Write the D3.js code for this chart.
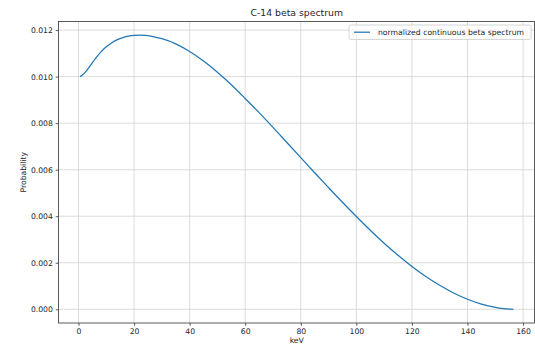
<!DOCTYPE html>
<html>
<head>
<meta charset="utf-8">
<script src="https://cdn.jsdelivr.net/npm/d3@7"></script>
<style>
  html, body { margin: 0; padding: 0; background: #fff; }
  svg { display: block; font-family: "DejaVu Sans", sans-serif; }
</style>
</head>
<body>
<svg id="chart" width="535" height="347"></svg>
<script>
// C-14 beta spectrum: kinetic energy (keV) and normalized probability
const energyKeV = [0.6, 2, 4, 6, 8, 10, 12, 14, 16, 18, 20, 22, 24, 26, 28, 30,
  35, 40, 45, 50, 55, 60, 65, 70, 75, 80, 85, 90, 95, 100, 105, 110, 115, 120,
  125, 130, 135, 140, 145, 150, 153, 156.5];
const probability = [0.01000, 0.01013, 0.01043, 0.01076, 0.01105, 0.01128, 0.01146,
  0.01159, 0.01168, 0.01174, 0.01177, 0.01178, 0.01177, 0.01174, 0.01169, 0.01163,
  0.01141, 0.01108, 0.01067, 0.01019, 0.00965, 0.00906, 0.00845, 0.00782, 0.00717,
  0.00652, 0.00587, 0.00523, 0.00460, 0.00399, 0.00340, 0.00284, 0.00232, 0.00184,
  0.00141, 0.00103, 0.00070, 0.00043, 0.00022, 0.00008, 0.00003, 0.00000];
const xTicks = [0, 20, 40, 60, 80, 100, 120, 140, 160];
const yTicks = [0.000, 0.002, 0.004, 0.006, 0.008, 0.010, 0.012];
const titleText = "C-14 beta spectrum";
const xLabel = "keV";
const yLabel = "Probability";
const seriesName = "normalized continuous beta spectrum";

const svg = d3.select("#chart");
const plot = { left: 58.5, right: 535, top: 21.5, bottom: 323 };

// 5% padding around the data range on both axes
const xExt = d3.extent(energyKeV), yExt = d3.extent(probability);
const xPad = (xExt[1] - xExt[0]) * 0.05, yPad = (yExt[1] - yExt[0]) * 0.05;
const x = d3.scaleLinear().domain([xExt[0] - xPad, xExt[1] + xPad]).range([plot.left, plot.right]);
const y = d3.scaleLinear().domain([yExt[0] - yPad, yExt[1] + yPad]).range([plot.bottom, plot.top]);

const textColor = "#262626";
const fs = 7.7;

// grid
const grid = svg.append("g").attr("stroke", "#d2d2d2").attr("stroke-width", 0.8);
grid.selectAll("line.gx").data(xTicks).join("line")
  .attr("x1", d => x(d)).attr("x2", d => x(d))
  .attr("y1", plot.top).attr("y2", plot.bottom);
grid.selectAll("line.gy").data(yTicks).join("line")
  .attr("y1", d => y(d)).attr("y2", d => y(d))
  .attr("x1", plot.left).attr("x2", plot.right);

// axes
const xAxis = d3.axisBottom(x).tickValues(xTicks).tickFormat(d3.format("d"))
  .tickSizeInner(2.8).tickSizeOuter(0).tickPadding(2.8);
const yAxis = d3.axisLeft(y).tickValues(yTicks).tickFormat(d3.format(".3f"))
  .tickSizeInner(2.8).tickSizeOuter(0).tickPadding(2.8);

const gx = svg.append("g").attr("transform", `translate(0,${plot.bottom})`).call(xAxis);
const gy = svg.append("g").attr("transform", `translate(${plot.left},0)`).call(yAxis);
[gx, gy].forEach(g => {
  g.select(".domain").remove();
  g.selectAll(".tick line").attr("stroke", "#333").attr("stroke-width", 0.8);
  g.selectAll(".tick text").attr("fill", textColor)
    .style("font-size", fs + "px").style("font-family", "DejaVu Sans, sans-serif");
});

// spectrum line
const line = d3.line().x((d, i) => x(energyKeV[i])).y(d => y(d)).curve(d3.curveMonotoneX);
svg.append("path").datum(probability)
  .attr("d", line).attr("fill", "none")
  .attr("stroke", "#1f77b4").attr("stroke-width", 1.25);

// frame
svg.append("rect")
  .attr("x", plot.left).attr("y", plot.top)
  .attr("width", plot.right - plot.left - 0.5).attr("height", plot.bottom - plot.top)
  .attr("fill", "none").attr("stroke", "#333").attr("stroke-width", 0.8);

// title and axis labels
svg.append("text").attr("x", (plot.left + plot.right) / 2).attr("y", 16)
  .attr("text-anchor", "middle").attr("fill", textColor)
  .style("font-size", "9.3px").text(titleText);
svg.append("text").attr("x", (plot.left + plot.right) / 2).attr("y", 343)
  .attr("text-anchor", "middle").attr("fill", textColor)
  .style("font-size", fs + "px").text(xLabel);
svg.append("text")
  .attr("transform", `translate(26,${(plot.top + plot.bottom) / 2}) rotate(-90)`)
  .attr("text-anchor", "middle").attr("fill", textColor)
  .style("font-size", fs + "px").text(yLabel);

// legend
const lg = svg.append("g").attr("transform", "translate(349,25)");
lg.append("rect").attr("width", 182).attr("height", 14.5).attr("rx", 2)
  .attr("fill", "#fff").attr("fill-opacity", 0.8)
  .attr("stroke", "#cccccc").attr("stroke-width", 0.8);
lg.append("line").attr("x1", 5).attr("x2", 21).attr("y1", 7.2).attr("y2", 7.2)
  .attr("stroke", "#1f77b4").attr("stroke-width", 1.25);
lg.append("text").attr("x", 29).attr("y", 10).attr("fill", textColor)
  .style("font-size", fs + "px").text(seriesName);
</script>
</body>
</html>
